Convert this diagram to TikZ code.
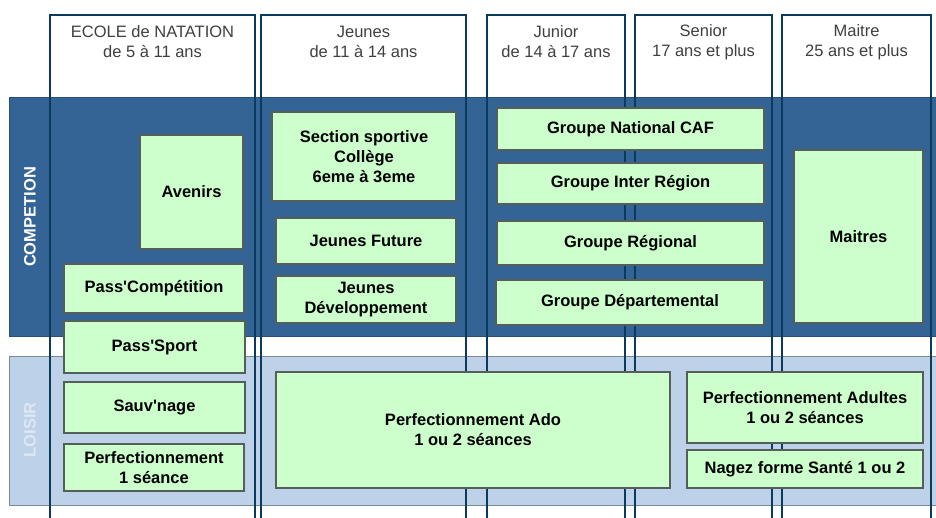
\documentclass[tikz,border=0pt]{standalone}
\usepackage{fontspec}
\setmainfont{Liberation Sans}
\definecolor{compblue}{RGB}{52,100,150}
\definecolor{compedge}{RGB}{37,78,120}
\definecolor{loisirblue}{RGB}{189,209,232}
\definecolor{loisiredge}{RGB}{122,138,153}
\definecolor{colline}{RGB}{11,59,92}
\definecolor{boxgreen}{RGB}{204,255,204}
\definecolor{boxedge}{RGB}{85,95,90}
\definecolor{loisirtext}{RGB}{221,232,243}
\tikzset{
  grp/.style={draw=boxedge, line width=1.5pt, fill=boxgreen, align=center,
    font=\fontsize{16.5}{20}\selectfont\bfseries, inner sep=0pt},
  colhead/.style={align=center, font=\fontsize{16.5}{20}\selectfont, text=black!75},
  colframe/.style={draw=colline, line width=2.5pt},
}
\begin{document}
\begin{tikzpicture}[x=1pt, y=-1pt]
      \useasboundingbox[fill=white] (0,0) rectangle (936,518);

      % bandes
      \fill[compblue, draw=compedge, line width=1pt] (9,98) rectangle (945,336);
      \fill[loisirblue, draw=loisiredge, line width=1pt] (9,356) rectangle (945,505);
      \node[at={(30,217)}, rotate=90, text=white, font=\fontsize{16.5}{20}\selectfont\bfseries] (lcomp) {COMPETION};
      \node[at={(30,430)}, rotate=90, text=loisirtext, font=\fontsize{16.5}{20}\selectfont\bfseries] (lloisir) {LOISIR};

      % colonnes
      \draw[colframe] (50,15) rectangle (255,540);
      \draw[colframe] (261,15) rectangle (466,540);
      \draw[colframe] (487,15) rectangle (625,540);
      \draw[colframe] (635,15) rectangle (772,540);
      \draw[colframe] (782,15) rectangle (931,540);

      \node[colhead, at={(152.5,42)}] (hecole) {ECOLE de NATATION\\de 5 à 11 ans};
      \node[colhead, at={(363.5,42)}] (hjeunes) {Jeunes\\de 11 à 14 ans};
      \node[colhead, at={(556,42)}] (hjunior) {Junior\\de 14 à 17 ans};
      \node[colhead, at={(703.5,42)}] (hsenior) {Senior\\17 ans et plus};
      \node[colhead, at={(856.5,42)}] (hmaitre) {Maitre\\25 ans et plus};

      % groupes
      \node[grp, at={(191.5,192)}, minimum width=103, minimum height=114] (avenirs) {Avenirs};
      \node[grp, at={(154,288.5)}, minimum width=180, minimum height=49] (passcomp) {Pass\textquotesingle Compétition};
      \node[grp, at={(154.5,347)}, minimum width=181, minimum height=52] (passsport) {Pass\textquotesingle Sport};
      \node[grp, at={(154.5,407.5)}, minimum width=181, minimum height=51] (sauvnage) {Sauv\textquotesingle nage};
      \node[grp, at={(154,467.5)}, minimum width=180, minimum height=47] (perfun) {Perfectionnement\\1 séance};

      \node[grp, at={(364,156.5)}, minimum width=184, minimum height=89] (section) {Section sportive\\Collège\\6eme à 3eme};
      \node[grp, at={(366,241)}, minimum width=180, minimum height=46] (jfuture) {Jeunes Future};
      \node[grp, at={(366,299.5)}, minimum width=180, minimum height=47] (jdev) {Jeunes\\Développement};

      \node[grp, at={(630.5,129)}, minimum width=267, minimum height=42] (gnat) {Groupe National CAF};
      \node[grp, at={(630.5,183.5)}, minimum width=267, minimum height=41] (ginter) {Groupe Inter Région};
      \node[grp, at={(630.5,243)}, minimum width=267, minimum height=44] (greg) {Groupe Régional};
      \node[grp, at={(630,302.5)}, minimum width=268, minimum height=45] (gdep) {Groupe Départemental};

      \node[grp, at={(858.5,236.5)}, minimum width=129, minimum height=173] (maitres) {Maitres};

      \node[grp, at={(473,430)}, minimum width=394, minimum height=116] (perfado) {Perfectionnement Ado\\1 ou 2 séances};
      \node[grp, at={(805,407.5)}, minimum width=236, minimum height=71] (perfadultes) {Perfectionnement Adultes\\1 ou 2 séances};
      \node[grp, at={(805,469)}, minimum width=236, minimum height=38] (nagez) {Nagez forme Santé 1 ou 2};
    \end{tikzpicture}
\end{document}
